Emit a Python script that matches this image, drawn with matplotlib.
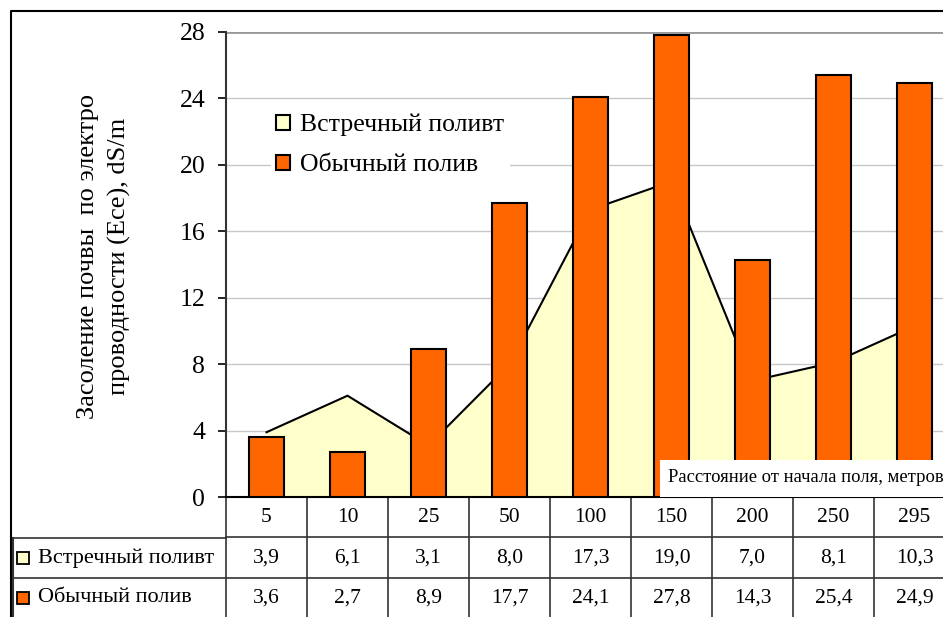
import matplotlib.pyplot as plt
from matplotlib.patches import Rectangle
import numpy as np

plt.rcParams['font.family'] = ['Liberation Serif', 'DejaVu Serif']

# data
distances = ['5', '10', '25', '50', '100', '150', '200', '250', '295']
counter_irrig = [3.9, 6.1, 3.1, 8.0, 17.3, 19.0, 7.0, 8.1, 10.3]
usual_irrig = [3.6, 2.7, 8.9, 17.7, 24.1, 27.8, 14.3, 25.4, 24.9]
series_names = ['Встречный поливт', 'Обычный полив']
yticks = [0, 4, 8, 12, 16, 20, 24, 28]

W, H = 943, 617
AREA_COL = '#FFFFCC'
BAR_COL = '#FF6600'

fig = plt.figure(figsize=(W / 100, H / 100), dpi=100)

def px(x0, y0, x1, y1):
    # pixel box (top-left origin) -> figure fraction rect
    return [x0 / W, 1 - y1 / H, (x1 - x0) / W, (y1 - y0) / H]

# outer frame of the chart + table (drawn below the plot)
frame = fig.add_axes([0, 0, 1, 1])
frame.set_xlim(0, W)
frame.set_ylim(H, 0)
frame.axis('off')
frame.plot([11, 11, W + 5], [H + 5, 11, 11], color='black', lw=1.5)

# main plot
col_w = 81
x0 = 226
x1 = x0 + col_w * len(distances)
ax = fig.add_axes(px(x0, 32, x1, 497))
x = np.arange(len(distances))

ax.fill_between(x, counter_irrig, 0, color=AREA_COL, lw=0, zorder=2)
ax.plot(x, counter_irrig, color='black', lw=1.5, zorder=3)
ax.bar(x, usual_irrig, width=0.43, color=BAR_COL, edgecolor='black', lw=1.5, zorder=4)

ax.set_xlim(-0.5, len(distances) - 0.5)
ax.set_ylim(0, 28)
ax.set_yticks(yticks)
ax.set_yticklabels([str(t) for t in yticks], fontsize=18.5)
ax.set_xticks([])
for t in yticks[1:-1]:
    ax.axhline(t, color='#C8C8C8', lw=1, zorder=1)
ax.axhline(28, color='#999999', lw=2, zorder=1)
for s in ['top', 'right']:
    ax.spines[s].set_visible(False)
ax.spines['left'].set_linewidth(1.5)
ax.spines['left'].set_color('#333333')
ax.spines['bottom'].set_linewidth(1.5)
ax.tick_params(axis='y', direction='out', length=6, width=1.2, pad=9)

handles = [Rectangle((0, 0), 1, 1, fc=AREA_COL, ec='black', lw=1.5),
           Rectangle((0, 0), 1, 1, fc=BAR_COL, ec='black', lw=1.5)]
leg = ax.legend(handles, series_names, loc='upper left',
                bbox_to_anchor=((258 - x0) / (x1 - x0), (497 - 96) / 465),
                fontsize=18.5, frameon=True, facecolor='white', edgecolor='none',
                framealpha=1, fancybox=False, handlelength=0.55, handleheight=0.55,
                handletextpad=0.4, labelspacing=0.7, borderpad=0.2)
leg.set_zorder(5)

# overlay for the x axis title in a white box over the plot
top = fig.add_axes([0, 0, 1, 1])
top.set_xlim(0, W)
top.set_ylim(H, 0)
top.axis('off')
top.patch.set_alpha(0)
top.add_patch(Rectangle((660, 460), 300, 37, fc='white', ec='none'))
top.text(668, 477, 'Расстояние от начала поля, метров', fontsize=13.4,
         va='center', ha='left')

# y label
frame.text(104, 256, 'Засоление почвы  по электро\nпроводности (Ece), dS/m',
           rotation=90, fontsize=19, ha='center', va='center', linespacing=1.45)

# data table
row_tops = [497, 538, 578]
row_h = 40
tcol = '#333333'
for r in range(3):
    yb = row_tops[r] + row_h
    frame.plot([13 if r > 0 else x0, W + 5], [yb, yb], color=tcol, lw=1.2)
frame.plot([13, x0], [538, 538], color=tcol, lw=1.2)
frame.plot([13, 13], [538, H + 5], color=tcol, lw=1.5)
for i in range(len(distances) + 1):
    xv = x0 + i * col_w
    frame.plot([xv, xv], [497, H + 5], color=tcol, lw=1.2)

for i, d in enumerate(distances):
    xc = x0 + (i + 0.5) * col_w
    frame.text(xc, 517, d, fontsize=15.5, ha='center', va='center')
    frame.text(xc, 558, f'{counter_irrig[i]:.1f}'.replace('.', ','),
               fontsize=15.5, ha='center', va='center')
    frame.text(xc, 598, f'{usual_irrig[i]:.1f}'.replace('.', ','),
               fontsize=15.5, ha='center', va='center')

for k, (name, col) in enumerate(zip(series_names, [AREA_COL, BAR_COL])):
    yc = 558 + k * 40
    frame.add_patch(Rectangle((17, yc - 6), 12, 12, fc=col, ec='black', lw=1.3))
    frame.text(38, yc, name, fontsize=16, ha='left', va='center')

fig.savefig('out.png', dpi=100)
